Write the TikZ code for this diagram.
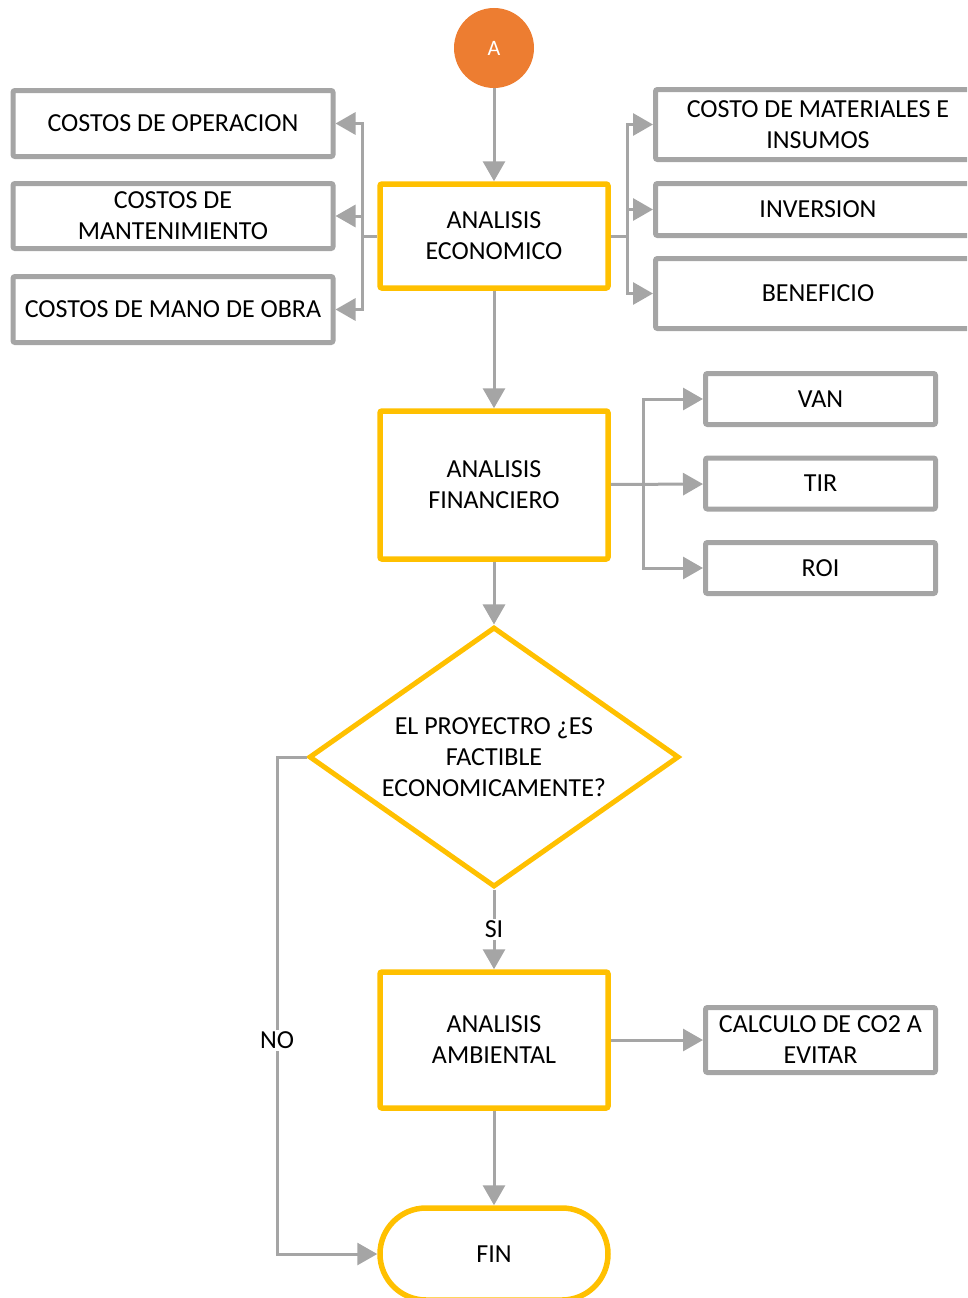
\documentclass[tikz,border=0pt]{standalone}
\usepackage{fontspec}
\setmainfont{Carlito}
\usetikzlibrary{arrows.meta,shapes.geometric}
\definecolor{gris}{HTML}{A5A5A5}
\definecolor{amarillo}{HTML}{FFC000}
\definecolor{naranja}{HTML}{ED7D31}

\begin{document}
\begin{tikzpicture}[x=1pt,y=-1pt,>={Triangle[length=20pt,width=22pt]},
    font=\fontsize{26pt}{31pt}\selectfont,
    proceso/.style={draw=amarillo,line width=5.5pt,rounded corners=2pt,
      minimum width=228pt,align=center,inner sep=0pt},
    caja/.style={draw=gris,line width=5pt,rounded corners=2pt,align=center,inner sep=0pt},
    flecha/.style={draw=gris,line width=3pt,->},
    linea/.style={draw=gris,line width=3pt}]
    \useasboundingbox (0,0) rectangle (967,1298);
    \clip (0,0) rectangle (967,1298);

    \node[circle,fill=naranja,text=white,minimum size=80pt,inner sep=0pt,
      font=\fontsize{22pt}{26pt}\selectfont] (A) at (494,48) {A};
    \node[proceso,minimum height=104pt] (eco)   at (494,236)  {ANALISIS\\ECONOMICO};
    \node[proceso,minimum height=148pt] (finan) at (494,485)  {ANALISIS\\FINANCIERO};
    \node[diamond,aspect=1.42,draw=amarillo,line width=5pt,inner sep=0pt,align=center,
      minimum width=370pt,minimum height=260pt] (dec) at (494,757)
      {EL PROYECTRO ¿ES\\FACTIBLE\\ECONOMICAMENTE?};
    \node[proceso,minimum height=136pt] (amb)   at (494,1040) {ANALISIS\\AMBIENTAL};
    \node[proceso,minimum height=92pt,rounded corners=46pt] (term) at (494,1254) {FIN};

    % costos a la izquierda
    \node[caja,minimum width=320pt,minimum height=66pt] (oper) at (173,123.5) {COSTOS DE OPERACION};
    \node[caja,minimum width=320pt,minimum height=65pt] (mant) at (173,216)   {COSTOS DE\\MANTENIMIENTO};
    \node[caja,minimum width=320pt,minimum height=66pt] (mano) at (173,309.5) {COSTOS DE MANO DE OBRA};

    % cajas a la derecha
    \node[caja,minimum width=325pt,minimum height=70pt] (mat) at (818,124.5) {COSTO DE MATERIALES E\\INSUMOS};
    \node[caja,minimum width=325pt,minimum height=52pt] (inv) at (818,209.5) {INVERSION};
    \node[caja,minimum width=325pt,minimum height=70pt] (ben) at (818,293.5) {BENEFICIO};

    \node[caja,minimum width=230pt,minimum height=51pt] (van) at (820.5,399)   {VAN};
    \node[caja,minimum width=230pt,minimum height=51pt] (tir) at (820.5,483.5) {TIR};
    \node[caja,minimum width=230pt,minimum height=51pt] (roi) at (820.5,568)   {ROI};
    \node[caja,minimum width=230pt,minimum height=65pt] (co2) at (820.5,1040)  {CALCULO DE CO2 A\\EVITAR};

    \coordinate (ecoL)  at (362,236);
    \coordinate (ecoR)  at (627,236);
    \coordinate (finR)  at (643,485);
    \coordinate (noC)   at (277,757);

    \draw[flecha] (A) -- (eco);
    \draw[flecha] (eco) -- (finan);
    \draw[flecha] (finan) -- (dec);
    \draw[flecha] (finan) -- (tir);
    \draw[flecha] (dec) -- node[fill=white,inner sep=2pt] {SI} (amb);
    \draw[flecha] (amb) -- (co2);
    \draw[flecha] (amb) -- (term);

    \draw[linea] (eco.west) -- (ecoL);
    \foreach \c in {oper,mant,mano}
      \draw[flecha] (ecoL) |- (\c.east);
    \draw[linea] (eco.east) -- (ecoR);
    \foreach \c in {mat,inv,ben}
      \draw[flecha] (ecoR) |- (\c.west);
    \foreach \c in {van,roi}
      \draw[flecha] (finR) |- (\c.west);

    \draw[flecha] (dec.west) -- (noC) |- node[pos=0.285,fill=white,inner sep=2pt] {NO} (term.west);
  \end{tikzpicture}
\end{document}
